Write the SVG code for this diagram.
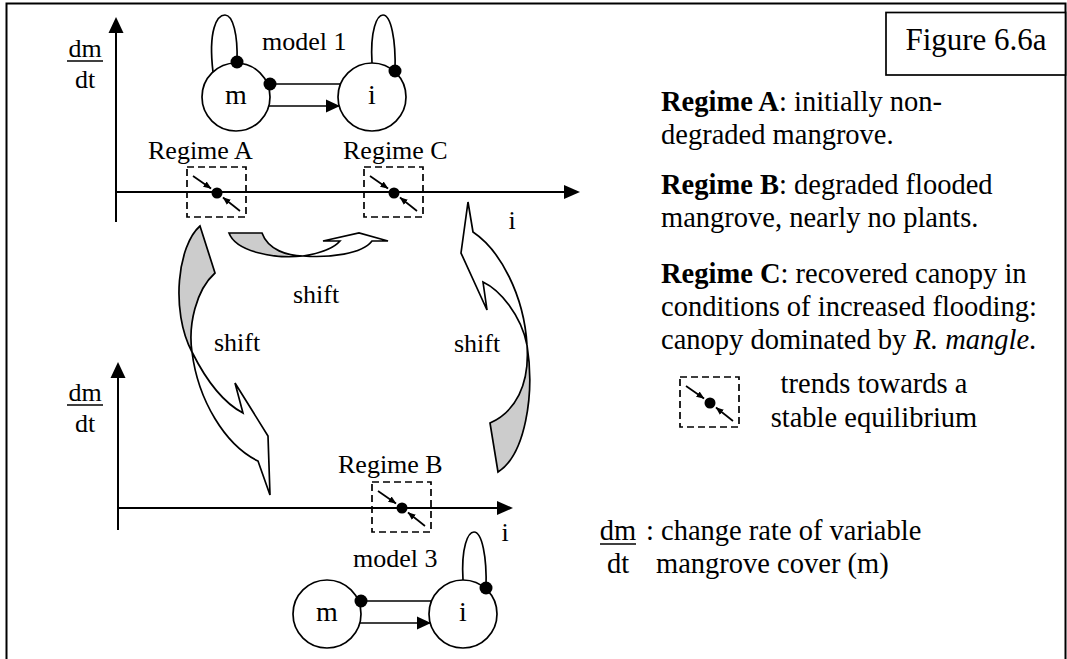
<svg xmlns="http://www.w3.org/2000/svg" width="1067" height="659" viewBox="0 0 1067 659">
<style>
  text { font-family: "Liberation Serif", "Times New Roman", serif; fill: #000; }
  .lbl { font-size: 26px; }
  .side { font-size: 28.5px; }
  .nd { font-size: 28px; text-anchor: middle; }
  .ax { fill: none; stroke: #000; stroke-width: 2; }
  .ln { fill: none; stroke: #000; stroke-width: 1.7; }
  .node { fill: #fff; stroke: #000; stroke-width: 1.7; }
  .box { fill: none; stroke: #000; stroke-width: 1.7; stroke-dasharray: 7 4; }
  .sh { stroke: #000; stroke-width: 1.7; stroke-linejoin: miter; }
  .back { fill: #cccccc; }
  .front { fill: #ffffff; }
</style>
<defs>
  <marker id="ah" markerUnits="userSpaceOnUse" markerWidth="14" markerHeight="14" viewBox="0 0 14 14" refX="13" refY="7" orient="auto">
    <path d="M0,0.5 L14,7 L0,13.5 Z" fill="#000"/>
  </marker>
  <marker id="sm" markerUnits="userSpaceOnUse" markerWidth="8" markerHeight="8" viewBox="0 0 8 8" refX="7.5" refY="4" orient="auto">
    <path d="M0,0.8 L8,4 L0,7.2 Z" fill="#000"/>
  </marker>
  <!-- stable equilibrium glyph, centred on its dot -->
  <g id="eq">
    <rect class="box" x="-30" y="-26" width="59" height="50"/>
    <path class="ln" d="M-24,-17 L-6,-4.5" marker-end="url(#sm)" stroke-width="1.5"/>
    <path class="ln" d="M23,18 L6,4.5" marker-end="url(#sm)" stroke-width="1.5"/>
    <circle r="5.5" fill="#000"/>
  </g>
</defs>

<!-- outer frame -->
<rect x="6.5" y="3.5" width="1059" height="700" fill="none" stroke="#000" stroke-width="2"/>

<!-- upper phase plot -->
<g id="plot-upper">
  <path class="ax" d="M116,222 V32"/>
  <path d="M116,17 L108.5,33 L123.5,33 Z"/>
  <path class="ax" d="M116,192 H565"/>
  <path d="M580,192 L564,185 L564,199 Z"/>
  <text class="lbl" x="85" y="57" text-anchor="middle" font-size="27">dm</text>
  <path d="M67,61 H103" stroke="#000" stroke-width="1.5"/>
  <text class="lbl" x="85" y="88" text-anchor="middle" font-size="27">dt</text>
  <text class="lbl" x="512" y="229" text-anchor="middle">i</text>
</g>

<!-- lower phase plot -->
<g id="plot-lower">
  <path class="ax" d="M118,530 V377"/>
  <path d="M118,362 L110.5,378 L125.5,378 Z"/>
  <path class="ax" d="M118,508 H499"/>
  <path d="M513,508 L497,501 L497,515 Z"/>
  <text class="lbl" x="85" y="401" text-anchor="middle" font-size="27">dm</text>
  <path d="M67,405 H103" stroke="#000" stroke-width="1.5"/>
  <text class="lbl" x="85" y="432" text-anchor="middle" font-size="27">dt</text>
  <text class="lbl" x="505" y="541" text-anchor="middle">i</text>
</g>

<!-- model 1 -->
<g id="model-1">
  <text class="lbl" x="262" y="50">model 1</text>
  <path class="ln" d="M213,72 C208,30 217,15 225,15 C233,15 238,35 237,62"/>
  <path class="ln" d="M372,63 C370,30 377,15 383,15 C391,15 396,40 395,71"/>
  <circle class="node" cx="236" cy="97" r="34"/>
  <circle class="node" cx="372" cy="97" r="34"/>
  <path class="ln" d="M270,84 H341"/>
  <path class="ln" d="M269,106 H339" marker-end="url(#ah)"/>
  <circle cx="237" cy="62" r="6.5"/>
  <circle cx="270" cy="84" r="6.5"/>
  <circle cx="395" cy="71" r="6.5"/>
  <text class="nd" x="236" y="104">m</text>
  <text class="nd" x="372" y="104">i</text>
</g>

<!-- model 3 -->
<g id="model-3">
  <text class="lbl" x="353" y="567">model 3</text>
  <path class="ln" d="M463,580 C461,547 468,532 474,532 C482,532 487,557 486,588"/>
  <circle class="node" cx="327" cy="614" r="34"/>
  <circle class="node" cx="463" cy="614" r="34"/>
  <path class="ln" d="M361,601 H432"/>
  <path class="ln" d="M360,623 H430" marker-end="url(#ah)"/>
  <circle cx="361" cy="601" r="6.5"/>
  <circle cx="486" cy="588" r="6.5"/>
  <text class="nd" x="327" y="621">m</text>
  <text class="nd" x="463" y="621">i</text>
</g>

<!-- regimes -->
<g id="regime-a">
  <text class="lbl" x="148" y="159">Regime A</text>
  <use href="#eq" x="217" y="193"/>
</g>
<g id="regime-c">
  <text class="lbl" x="343" y="159">Regime C</text>
  <use href="#eq" x="394" y="193"/>
</g>
<g id="regime-b">
  <text class="lbl" x="338" y="473">Regime B</text>
  <use href="#eq" x="402" y="508"/>
</g>

<!-- regime shifts -->
<g id="shifts">
  <!-- A to B -->
  <path class="sh back" d="M200,226 L215,273 C196,290 188,325 192,352 C170,310 178,245 200,226 Z"/>
  <path class="sh front" d="M192,352 C205,378 222,402 243,413 L235,383 L268,436 L270,495 L258,461 C225,445 198,400 192,352 Z"/>
  <!-- A to C -->
  <path class="sh back" d="M229,233 L262,233 C268,250 288,256 303,256 C275,259 236,252 229,233 Z"/>
  <path class="sh front" d="M303,256 C322,253 334,248 340,241 L323,241 L359,233 L388,241 L372,241 C362,254 330,258 303,256 Z"/>
  <!-- B to C -->
  <path class="sh back" d="M490,423 C515,412 530,385 527,345 C535,395 525,455 498,472 Z"/>
  <path class="sh front" d="M527,345 C521,315 500,290 483,282 L487,310 L461,253 L468,202 L473,232 C500,250 524,295 527,345 Z"/>
  <text class="lbl" x="316" y="303" text-anchor="middle">shift</text>
  <text class="lbl" x="237" y="351" text-anchor="middle">shift</text>
  <text class="lbl" x="477" y="352" text-anchor="middle">shift</text>
</g>

<!-- title -->
<g id="title">
  <rect x="886" y="12.5" width="179.5" height="62.5" fill="#fff" stroke="#000" stroke-width="1.7"/>
  <text x="976" y="50" text-anchor="middle" font-size="31">Figure 6.6a</text>
</g>

<!-- key -->
<g id="key" class="side">
  <text x="661" y="111"><tspan font-weight="bold">Regime A</tspan>: initially non-</text>
  <text x="661" y="144">degraded mangrove.</text>
  <text x="661" y="194"><tspan font-weight="bold">Regime B</tspan>: degraded flooded</text>
  <text x="661" y="227">mangrove, nearly no plants.</text>
  <text x="661" y="283"><tspan font-weight="bold">Regime C</tspan>: recovered canopy in</text>
  <text x="661" y="316">conditions of increased flooding:</text>
  <text x="661" y="349">canopy dominated by <tspan font-style="italic">R. mangle</tspan>.</text>
  <use href="#eq" x="710" y="403"/>
  <text x="874" y="393" text-anchor="middle">trends towards a</text>
  <text x="874" y="427" text-anchor="middle">stable equilibrium</text>
  <text x="618" y="540" text-anchor="middle">dm</text>
  <path d="M600,544 H636" stroke="#000" stroke-width="1.5"/>
  <text x="618" y="573" text-anchor="middle">dt</text>
  <text x="646" y="540">: change rate of variable</text>
  <text x="656" y="573">mangrove cover (m)</text>
</g>
</svg>
